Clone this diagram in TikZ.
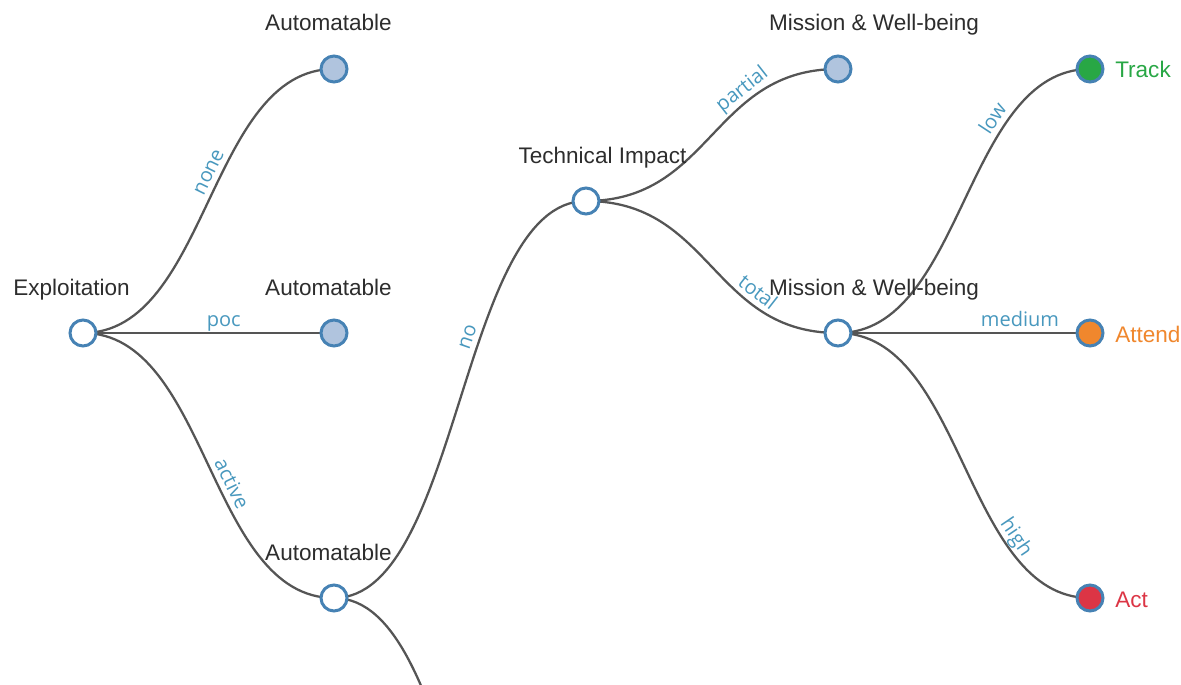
\documentclass[tikz,border=0pt]{standalone}
\usepackage{fontspec}
\setmainfont{Liberation Sans}
\newfontfamily\edgefont{Open Sans}
\usetikzlibrary{backgrounds,calc}

\definecolor{steel}{RGB}{70,130,180}
\definecolor{lightsteel}{RGB}{176,196,222}
\definecolor{linkgray}{RGB}{85,85,85}
\definecolor{ink}{RGB}{45,45,45}
\definecolor{lblue}{RGB}{72,152,190}
\definecolor{trackc}{RGB}{40,167,69}
\definecolor{attendc}{RGB}{240,135,45}
\definecolor{actc}{RGB}{220,53,69}

\begin{document}
\begin{tikzpicture}[x=0.75pt,y=-0.75pt,
  dnode/.style={circle, draw=steel, line width=2.25pt, minimum size=19.5pt, inner sep=0pt, fill=white},
  closed/.style={dnode, fill=lightsteel},
  nlabel/.style={anchor=base, inner sep=0pt, text=ink, font=\fontsize{16.9}{20}\selectfont},
  leaflabel/.style={anchor=base west, inner sep=0pt, font=\fontsize{16.9}{20}\selectfont},
  elabel/.style={sloped, above, inner sep=1.5pt, text depth=0.25em, text=lblue, font=\edgefont\fontsize{15}{18}\selectfont},
  link/.style={draw=linkgray, line width=1.7pt,
    to path={let \p1=(\tikztostart), \p2=(\tikztotarget) in
      .. controls ({(\x1+\x2)/2},\y1) and ({(\x1+\x2)/2},\y2) .. (\tikztotarget) \tikztonodes}}
]
\useasboundingbox (0,0) rectangle (1181,685);

% tree nodes
\node[dnode]  (ex)  at (83,333)  {};
\node[closed] (au1) at (334,69)  {};
\node[closed] (au2) at (334,333) {};
\node[dnode]  (au3) at (334,598) {};
\node[dnode]  (ti)  at (586,201) {};
\coordinate   (au4) at (586,995);
\node[closed] (mw1) at (838,69)  {};
\node[dnode]  (mw2) at (838,333) {};
\node[dnode, fill=trackc]  (tr) at (1090,69)  {};
\node[dnode, fill=attendc] (at) at (1090,333) {};
\node[dnode, fill=actc]    (ac) at (1090,598) {};

% decision-point titles
\node[nlabel] (lex)  at (71.5,295)  {Exploitation};
\node[nlabel] (lau1) at (328.5,31)  {Automatable};
\node[nlabel] (lau2) at (328.5,295) {Automatable};
\node[nlabel] (lau3) at (328.5,560) {Automatable};
\node[nlabel] (lti)  at (602.5,163) {Technical Impact};
\node[nlabel] (lmw1) at (874,31)    {Mission \& Well-being};
\node[nlabel] (lmw2) at (874,295)   {Mission \& Well-being};

% outcomes
\node[leaflabel, text=trackc]  (ltr) at (1115,78)  {Track};
\node[leaflabel, text=attendc] (lat) at (1115,342) {Attend};
\node[leaflabel, text=actc]    (lac) at (1115,607) {Act};

% links, drawn beneath the nodes
\begin{scope}[on background layer]
  \fill[white] (0,0) rectangle (1181,685);
  \clip (0,0) rectangle (1181,685);
  \draw[link] (ex.center)  to node[elabel, pos=0.56]{none}    (au1.center);
  \draw[link] (ex.center)  to node[elabel, pos=0.58]{poc}     (au2.center);
  \draw[link] (ex.center)  to node[elabel, pos=0.56]{active}  (au3.center);
  \draw[link] (au3.center) to node[elabel, pos=0.6]{no}       (ti.center);
  \draw[link] (au3.center) to (au4);
  \draw[link] (ti.center)  to node[elabel, pos=0.69]{partial} (mw1.center);
  \draw[link] (ti.center)  to node[elabel, pos=0.69]{total}   (mw2.center);
  \draw[link] (mw2.center) to node[elabel, pos=0.7]{low}      (tr.center);
  \draw[link] (mw2.center) to node[elabel, pos=0.77]{medium}  (at.center);
  \draw[link] (mw2.center) to node[elabel, pos=0.71]{high}    (ac.center);
\end{scope}
\end{tikzpicture}
\end{document}
